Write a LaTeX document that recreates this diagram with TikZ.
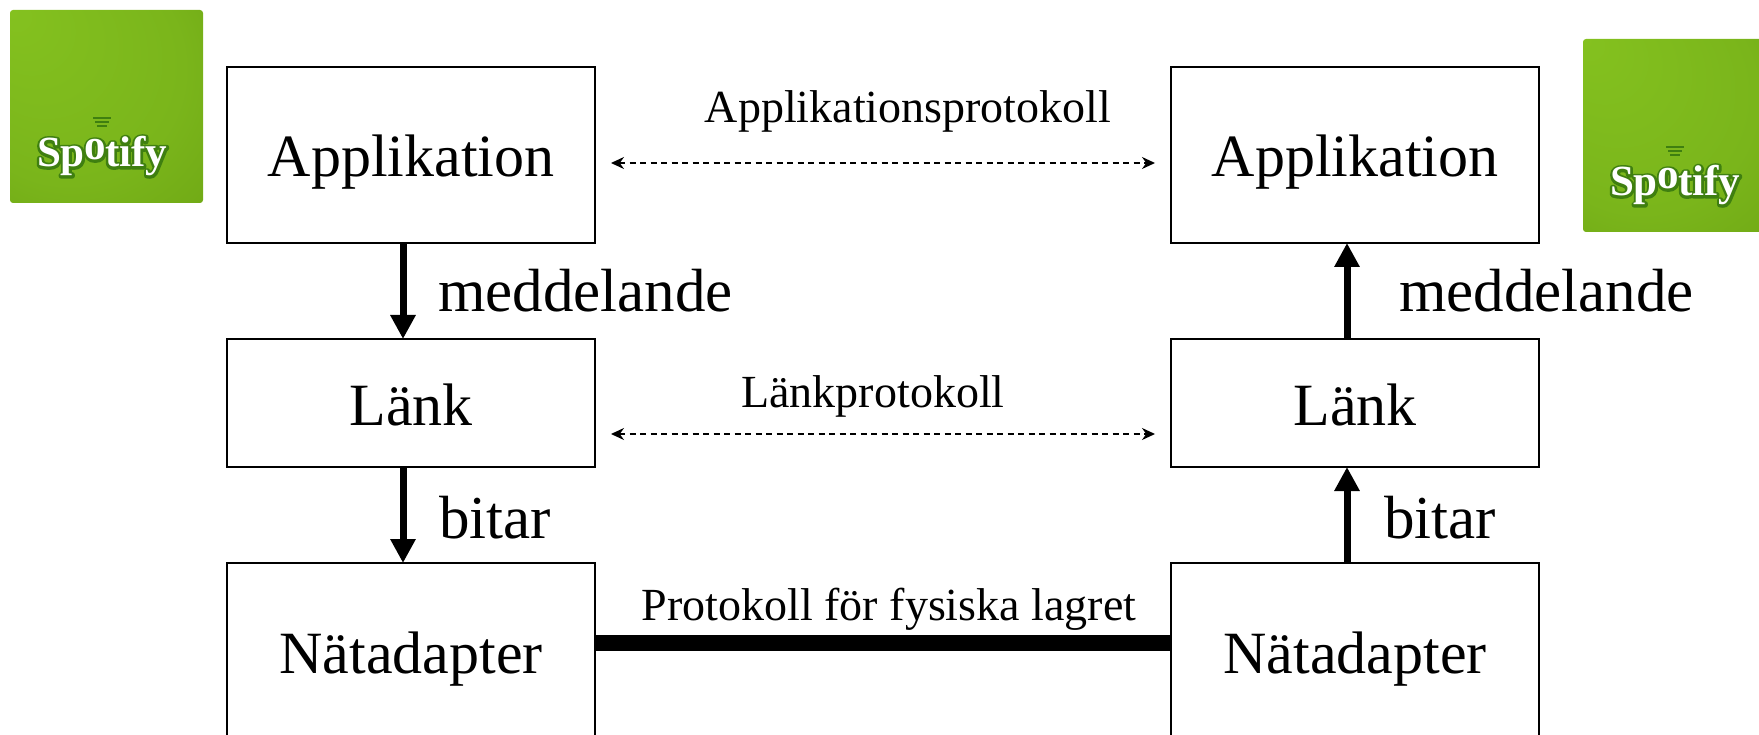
\documentclass[tikz,border=0pt]{standalone}
\usepackage{fontspec}
\setmainfont{Liberation Serif}
\usetikzlibrary{arrows.meta,calc}
\definecolor{logoA}{HTML}{84C11F}
\definecolor{logoB}{HTML}{7AB51B}
\definecolor{logoC}{HTML}{6BA312}
\definecolor{logoD}{HTML}{3F7F10}
\pgfdeclareradialshading{logoshade}{\pgfpoint{-25bp}{25bp}}{color(0bp)=(logoA); color(30bp)=(logoB); color(50bp)=(logoC)}
\newcommand{\fs}[1]{\fontsize{#1}{#1}\selectfont}
\newcommand{\logoword}{S\kern-0.5pt p\raisebox{7pt}{o}\kern-1pt tify}
\newcommand{\logotext}{\fontsize{43}{43}\bfseries
  \rlap{\special{pdf:code q 1 Tr 5 w 0.25 0.5 0.06 RG 1 j}\color{logoD}\logoword\special{pdf:code 0 Tr Q}}\color{white}\logoword}
\tikzset{
  x=1pt,y=-1pt,
  boxbase/.style={draw=black,line width=1.8pt,minimum width=368pt,inner sep=0pt,outer sep=0pt,
    text height=44pt,text depth=0pt,font=\fs{60}},
  bigbox/.style={boxbase,minimum height=176pt},
  linkbox/.style={boxbase,minimum height=128pt},
  flow/.style={line width=7pt,-{Triangle[length=24pt,width=24pt]}},
  peer/.style={line width=1.7pt,dash pattern=on 6pt off 4.5pt,{Stealth[length=13pt,width=12pt]}-{Stealth[length=13pt,width=12pt]}},
  wire/.style={line width=16pt},
  biglabel/.style={anchor=base west,inner sep=0pt,font=\fs{61}},
  protolabel/.style={anchor=base,inner sep=0pt,font=\fs{46}},
  logobg/.style={minimum width=193pt,minimum height=193pt,rounded corners=3pt,shading=logoshade,inner sep=0pt},
  logoname/.style={inner sep=0pt,anchor=base west},
  arcline/.style={draw=logoD,line width=1.2pt},
}
\begin{document}
\begin{tikzpicture}
\useasboundingbox (0,0) rectangle (1759,735);
\clip (0,0) rectangle (1759,735);
% boxes
\node[bigbox] (a1) at (411,155) {Applikation};
\node[linkbox] (l1) at (411,403) {Länk};
\node[bigbox] (n1) at (411,651) {Nätadapter};
\node[bigbox] (a2) at (1355,155) {Applikation};
\node[linkbox] (l2) at (1355,403) {Länk};
\node[bigbox] (n2) at (1355,651) {Nätadapter};
% vertical arrows
\draw[flow] ($(a1.south)+(-8,0)$) -- ($(l1.north)+(-8,0)$);
\draw[flow] ($(l1.south)+(-8,0)$) -- ($(n1.north)+(-8,0)$);
\draw[flow] ($(l2.north)+(-8,0)$) -- ($(a2.south)+(-8,0)$);
\draw[flow] ($(n2.north)+(-8,0)$) -- ($(l2.south)+(-8,0)$);
% peer protocols
\draw[peer] ($(a1.east)+(16,8)$) -- ($(a2.west)+(-16,8)$);
\draw[peer] ($(l1.east)+(16,31)$) -- ($(l2.west)+(-16,31)$);
\draw[wire] ($(n1.east)+(0,-8)$) -- ($(n2.west)+(0,-8)$);
% labels
\node[biglabel] (m1) at (438,312) {meddelande};
\node[biglabel] (m2) at (1399,312) {meddelande};
\node[biglabel] (b1) at (439,538) {bitar};
\node[biglabel] (b2) at (1384,538) {bitar};
\node[protolabel] (p1) at (908,123) {Applikationsprotokoll};
\node[protolabel] (p2) at (873,407) {Länkprotokoll};
\node[protolabel] (p3) at (889,620) {Protokoll för fysiska lagret};
% logos
\node[logobg] (lg1) at (106.5,106.5) {};
\node[logoname] (lt1) at (37,167) {\logotext};
\draw[arcline] (93,118) -- (111,118) (95,122) -- (109,122) (97,126) -- (107,126);
\node[logobg] (lg2) at (1679.5,135.5) {};
\node[logoname] (lt2) at (1610,196) {\logotext};
\draw[arcline] (1666,147) -- (1684,147) (1668,151) -- (1682,151) (1670,155) -- (1680,155);
\end{tikzpicture}
\end{document}
